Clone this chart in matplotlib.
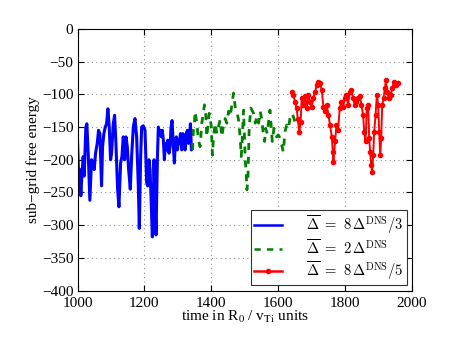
import matplotlib
matplotlib.use("Agg")
import matplotlib.pyplot as plt
from matplotlib.font_manager import FontProperties

plt.rcParams['font.family'] = ['Liberation Serif', 'DejaVu Serif']
plt.rcParams['mathtext.fontset'] = 'stix'

blue_t = [1000,1004,1007,1010,1013,1017,1020,1025,1028,1032,1037,1042,1047,1050,1054,1059,1063,1067,1072,1075,
          1079,1083,1087,1091,1095,1099,1102,1107,1111,1115,1120,1124,1129,1133,1137,1141,1145,1149,1153,1158,
          1162,1167,1172,1177,1182,1185,1189,1192,1197,1202,1207,1210,1214,1217,1221,1224,1227,1229,1232,1235,
          1239,1242,1245,1248,1251,1254,1257,1260,1263,1267,1270,1274,1277,1280,1283,1287,1290,1293,1296,1299,
          1302,1305,1308,1312,1315,1318,1322,1325,1329,1332,1335,1338,1341,1344]
blue_v = [-170,-235,-215,-255,-225,-195,-225,-150,-145,-190,-262,-200,-205,-215,-190,-175,-155,-160,-240,-180,
          -160,-150,-145,-122,-150,-200,-190,-145,-132,-175,-245,-272,-205,-195,-165,-200,-165,-180,-215,-245,
          -195,-150,-137,-165,-240,-305,-195,-150,-148,-155,-235,-240,-200,-215,-270,-318,-265,-200,-260,-315,
          -200,-150,-160,-155,-165,-155,-170,-200,-175,-185,-170,-190,-180,-150,-140,-180,-205,-170,-165,-185,
          -170,-175,-160,-185,-160,-165,-185,-160,-155,-175,-165,-145,-185,-180]

green_t = [1344,1347,1350,1352,1357,1362,1367,1372,1380,1384,1387,1394,1400,1404,1407,1412,1417,1422,1427,1432,
           1437,1442,1447,1452,1457,1462,1467,1472,1477,1482,1487,1490,1492,1497,1502,1505,1507,1510,1514,1519,
           1527,1532,1537,1542,1547,1552,1556,1560,1563,1568,1573,1576,1579,1583,1588,1592,1596,1601,1606,1611,
           1616,1621,1626,1631,1636,1641,1646,1651]
green_v = [-185,-154,-144,-126,-144,-170,-180,-144,-116,-132,-165,-129,-147,-193,-165,-144,-160,-149,-139,-165,
           -147,-137,-144,-126,-134,-116,-98,-119,-126,-139,-167,-195,-180,-124,-200,-221,-246,-231,-149,-121,
           -129,-144,-134,-144,-126,-140,-160,-172,-152,-160,-137,-124,-144,-172,-152,-160,-165,-162,-167,-177,
           -188,-157,-147,-152,-137,-129,-134,-142]

red_t = [1641,1646,1651,1656,1659,1664,1668,1671,1676,1681,1686,1691,1696,1701,1706,1711,1716,1721,1726,1731,
         1736,1741,1746,1751,1756,1761,1764,1766,1771,1775,1780,1785,1790,1795,1800,1805,1810,1815,1820,1825,
         1830,1835,1840,1845,1850,1855,1858,1862,1866,1870,1873,1876,1879,1882,1885,1888,1892,1896,1900,1903,
         1906,1909,1912,1916,1920,1923,1927,1932,1937,1942,1947,1952,1958]
red_v = [-96,-101,-111,-121,-137,-157,-142,-106,-116,-103,-121,-101,-111,-119,-106,-96,-86,-81,-83,-93,
         -119,-126,-116,-132,-147,-165,-188,-203,-172,-147,-154,-121,-111,-119,-106,-101,-116,-96,-93,-106,
         -116,-111,-106,-103,-116,-132,-157,-172,-121,-116,-167,-188,-208,-218,-193,-157,-132,-101,-116,-157,
         -193,-167,-116,-106,-91,-78,-96,-106,-101,-91,-81,-86,-83]

labels = [r'$\overline{\Delta}\ =\ 8\,\Delta^{\mathrm{DNS}}/3$',
          r'$\overline{\Delta}\ =\ 2\,\Delta^{\mathrm{DNS}}$',
          r'$\overline{\Delta}\ =\ 8\,\Delta^{\mathrm{DNS}}/5$']

fig = plt.figure(figsize=(4.63, 3.44), dpi=100)
ax = fig.add_axes([0.1674, 0.1555, 0.889 - 0.1674, 0.9157 - 0.1555])

ax.plot(blue_t, blue_v, color='#0000ff', lw=2.2, label=labels[0])
ax.plot(green_t, green_v, color='#008000', lw=2.0, ls=(0, (2.5, 2.5)), label=labels[1])
ax.plot(red_t, red_v, color='#ff0000', lw=1.4, marker='.', ms=6, label=labels[2])

ax.set_xlim(1000, 2000)
ax.set_ylim(-400, 0)
ax.set_xticks([1000, 1200, 1400, 1600, 1800, 2000])
ax.set_yticks(range(-400, 1, 50))
ax.grid(True, color='#909090', ls=(0, (1, 3)), lw=0.8)
ax.tick_params(axis='both', direction='in', top=True, right=True, labelsize=11, length=4)
ax.tick_params(axis='x', pad=5)
ax.tick_params(axis='y', pad=3)
for s in ax.spines.values():
    s.set_linewidth(0.8)

ax.set_xlabel(r'time in R$_0$ / v$_{\mathrm{Ti}}$ units', fontsize=11, labelpad=-1)
ax.set_ylabel('sub\u2212grid free energy', fontsize=11, labelpad=1)

leg_prop = FontProperties(family=['Liberation Serif', 'DejaVu Serif'], size=10.5, math_fontfamily='cm')
leg = ax.legend(loc='lower right', prop=leg_prop, fancybox=False, edgecolor='#333333',
                framealpha=1, handlelength=1.9, handletextpad=1.6, labelspacing=0.12,
                borderpad=0.25, borderaxespad=0.35)
leg.get_frame().set_linewidth(0.8)
for h in leg.get_lines():
    h.set_linewidth(1.8)

fig.savefig('out.png', dpi=100)
